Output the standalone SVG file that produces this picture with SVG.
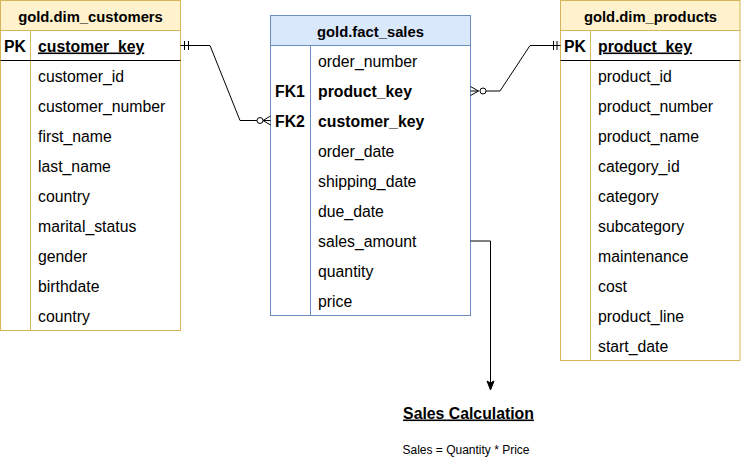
<svg xmlns="http://www.w3.org/2000/svg" width="741" height="474" viewBox="0 0 741 474">
<style>
text{font-family:"Liberation Sans",Arial,sans-serif;fill:#000}
.f{font-size:15.8px}
.b{font-size:15.8px;font-weight:bold}
.h{font-size:14.8px;font-weight:bold;text-anchor:middle}
.u{text-decoration:underline}
.dimh{fill:#fff2cc;stroke:#d6b656}
.dimb{fill:#fff;stroke:#d6b656}
.dimd{stroke:#d6b656}
.facth{fill:#dae8fc;stroke:#6c8ebf}
.factb{fill:#fff;stroke:#6c8ebf}
.factd{stroke:#6c8ebf}
.ln{fill:none;stroke:#000;stroke-width:1}
</style>
<rect width="741" height="474" fill="#fff"/>
<g id="dim_customers">
<rect class="dimh" x="0.5" y="0.5" width="180" height="30"/>
<rect class="dimb" x="0.5" y="30.5" width="180" height="300"/>
<line class="dimd" x1="30.5" y1="30.5" x2="30.5" y2="330.5"/>
<line stroke="#000" x1="0.5" y1="60.5" x2="180.5" y2="60.5"/>
<text class="h" x="90.5" y="21.5">gold.dim_customers</text>
<text class="b" x="4" y="51.5">PK</text>
<text class="b u" x="38" y="51.5">customer_key</text>
<text class="f" x="38" y="81.5">customer_id</text>
<text class="f" x="38" y="111.5">customer_number</text>
<text class="f" x="38" y="141.5">first_name</text>
<text class="f" x="38" y="171.5">last_name</text>
<text class="f" x="38" y="201.5">country</text>
<text class="f" x="38" y="231.5">marital_status</text>
<text class="f" x="38" y="261.5">gender</text>
<text class="f" x="38" y="291.5">birthdate</text>
<text class="f" x="38" y="321.5">country</text>
</g>
<g id="fact_sales">
<rect class="facth" x="270.5" y="15.5" width="200" height="30"/>
<rect class="factb" x="270.5" y="45.5" width="200" height="270"/>
<line class="factd" x1="310.5" y1="45.5" x2="310.5" y2="315.5"/>
<text class="h" x="370.5" y="37">gold.fact_sales</text>
<text class="f" x="318" y="66.5">order_number</text>
<text class="b" x="275" y="96.5">FK1</text>
<text class="b" x="318" y="96.5">product_key</text>
<text class="b" x="275" y="126.5">FK2</text>
<text class="b" x="318" y="126.5">customer_key</text>
<text class="f" x="318" y="156.5">order_date</text>
<text class="f" x="318" y="186.5">shipping_date</text>
<text class="f" x="318" y="216.5">due_date</text>
<text class="f" x="318" y="246.5">sales_amount</text>
<text class="f" x="318" y="276.5">quantity</text>
<text class="f" x="318" y="306.5">price</text>
</g>
<g id="dim_products">
<rect class="dimh" x="560.5" y="0.5" width="179.5" height="30"/>
<rect class="dimb" x="560.5" y="30.5" width="179.5" height="330"/>
<line class="dimd" x1="590.5" y1="30.5" x2="590.5" y2="360.5"/>
<line stroke="#000" x1="560.5" y1="60.5" x2="740.5" y2="60.5"/>
<text class="h" x="650.5" y="21.5">gold.dim_products</text>
<text class="b" x="564" y="51.5">PK</text>
<text class="b u" x="598" y="51.5">product_key</text>
<text class="f" x="598" y="81.5">product_id</text>
<text class="f" x="598" y="111.5">product_number</text>
<text class="f" x="598" y="141.5">product_name</text>
<text class="f" x="598" y="171.5">category_id</text>
<text class="f" x="598" y="201.5">category</text>
<text class="f" x="598" y="231.5">subcategory</text>
<text class="f" x="598" y="261.5">maintenance</text>
<text class="f" x="598" y="291.5">cost</text>
<text class="f" x="598" y="321.5">product_line</text>
<text class="f" x="598" y="351.5">start_date</text>
</g>
<g id="sales_calc">
<text class="b u" x="468.5" y="418.5" text-anchor="middle">Sales Calculation</text>
<text x="466" y="454" font-size="12px" text-anchor="middle">Sales = Quantity * Price</text>
</g>
<g id="connectors">
<path class="ln" d="M180.5,45.5 H210 L240,120.5 H257"/>
<path class="ln" d="M184.5,41 V50 M188.5,41 V50"/>
<circle cx="260" cy="120.5" r="3" fill="#fff" stroke="#000"/>
<path class="ln" d="M263,120.5 H270.5 M263,120.5 L270.5,116 M263,120.5 L270.5,125"/>
<path class="ln" d="M486,91 H500 L530,45.5 H560.5"/>
<path class="ln" d="M553.5,41 V50 M557,41 V50"/>
<circle cx="483" cy="91" r="3" fill="#fff" stroke="#000"/>
<path class="ln" d="M478.5,91 H470.5 M478.5,91 L470.5,86.5 M478.5,91 L470.5,95.5"/>
<path class="ln" d="M470.5,241 H490.5 V383"/>
<polygon points="490.5,390 487,381 490.5,383 494,381" fill="#000" stroke="#000"/>
</g>
</svg>
